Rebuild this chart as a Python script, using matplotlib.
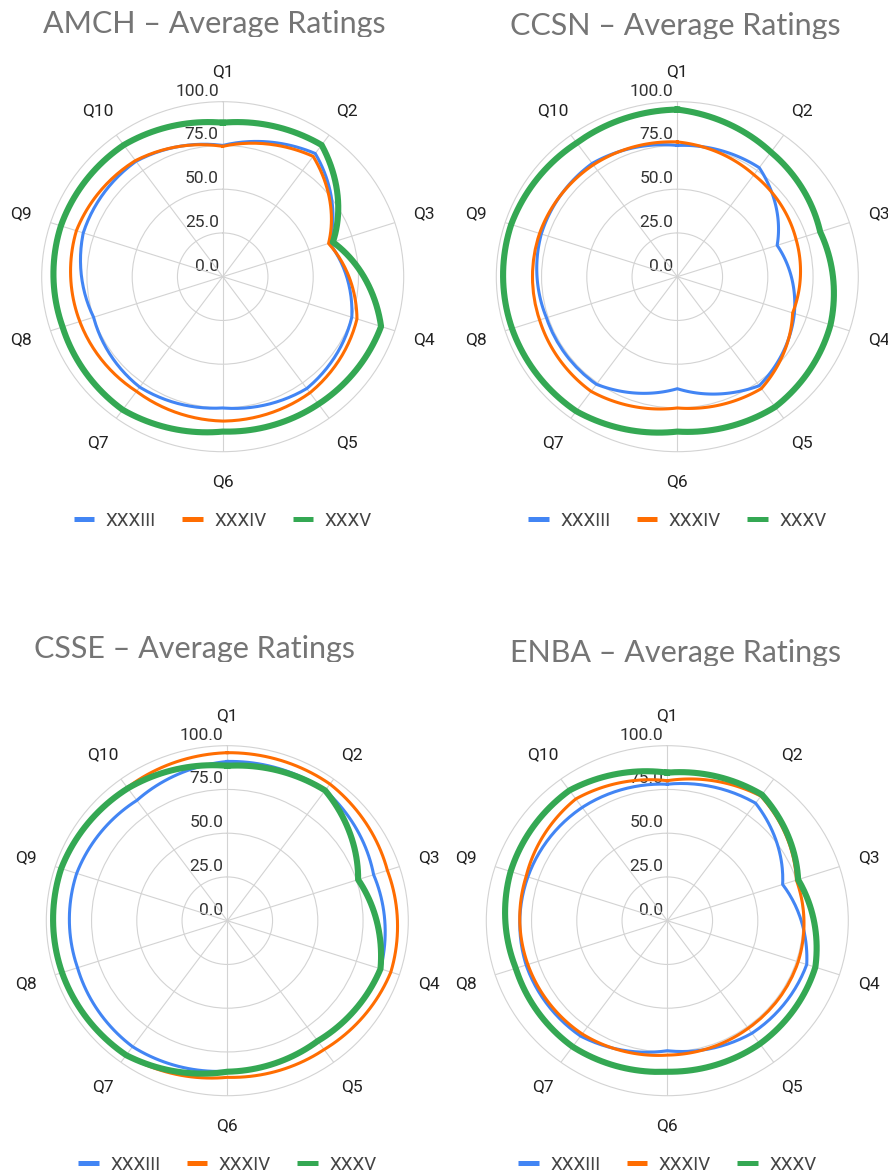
import matplotlib
matplotlib.use("Agg")
import matplotlib.pyplot as plt
import numpy as np
from matplotlib.lines import Line2D
from matplotlib.transforms import Bbox, offset_copy

W, H = 888, 1176

# data
questions = ["Q1", "Q2", "Q3", "Q4", "Q5", "Q6", "Q7", "Q8", "Q9", "Q10"]
editions = ["XXXIII", "XXXIV", "XXXV"]
ticks = [0, 25, 50, 75, 100]

amch_xxxiii = [75, 87, 62, 75, 79, 75, 78, 75, 81, 81.5]
amch_xxxiv = [74.5, 85, 61.5, 78, 82, 82.5, 81, 83, 85, 82]
amch_xxxv = [88, 93, 64, 92, 90, 88.5, 94, 93, 94, 93]

ccsn_xxxiii = [75, 77, 58, 68, 77, 64, 76, 76, 79, 80]
ccsn_xxxiv = [77, 72, 69, 67, 79, 75, 81, 80, 80, 79]
ccsn_xxxv = [95.5, 88, 83, 89, 92, 88.5, 95, 96, 96.5, 94.5]

csse_xxxiii = [91, 92, 85, 89, 85, 86, 89, 87, 87.5, 85]
csse_xxxiv = [96, 96.5, 93, 95, 91, 89.5, 95, 96, 96.5, 94]
csse_xxxv = [88.5, 92, 76, 89, 85, 86.3, 95, 96, 96.5, 93.5]

enba_xxxiii = [78, 83, 67, 81, 79.5, 74.3, 81.5, 82, 81, 80]
enba_xxxiv = [80, 88, 75, 76, 76, 76.8, 80, 81, 82, 86]
enba_xxxv = [84.6, 89, 76, 86, 87, 86.3, 89, 88, 91, 92]

colors = ["#4285F4", "#FF6D01", "#34A853"]
widths = [2.2, 2.2, 4.4]

charts = [
    ("AMCH – Average Ratings", (222.7, 276.7), (43, 33), [amch_xxxiii, amch_xxxiv, amch_xxxv], 521),
    ("CCSN – Average Ratings", (677.3, 276.7), (510, 35), [ccsn_xxxiii, ccsn_xxxiv, ccsn_xxxv], 521),
    ("CSSE – Average Ratings", (227.3, 920.7), (34, 658), [csse_xxxiii, csse_xxxiv, csse_xxxv], 1165),
    ("ENBA – Average Ratings", (667.3, 920.7), (510, 662), [enba_xxxiii, enba_xxxiv, enba_xxxv], 1165),
]

plt.rcParams["font.family"] = ["Roboto", "DejaVu Sans"]
fig = plt.figure(figsize=(W / 100, H / 100), dpi=100)

rx, ry = 181, 175
theta = np.linspace(0, 2 * np.pi, len(questions), endpoint=False)
theta_closed = np.append(theta, 2 * np.pi)

for title, (cx, cy), (tx, tb), values, ly in charts:
    ax = fig.add_axes([(cx - rx) / W, (H - cy - ry) / H, 2 * rx / W, 2 * ry / H],
                      projection="polar")
    ax.set_aspect("auto")
    ax.set_theta_zero_location("N")
    ax.set_theta_direction(-1)
    ax.set_ylim(0, 100)
    ax.set_yticks([25, 50, 75])
    ax.set_yticklabels([])
    ax.set_xticks(theta)
    ax.set_xticklabels([])
    ax.grid(True, color="#d3d3d3", linewidth=0.8)
    ax.spines["polar"].set_color("#d3d3d3")
    ax.spines["polar"].set_linewidth(0.8)
    ax.patch.set_alpha(0)

    for vals, c, lw, name in zip(values, colors, widths, editions):
        ln, = ax.plot(theta_closed, vals + vals[:1], color=c, linewidth=lw,
                      label=name, solid_joinstyle="round", zorder=3)
        # interpolate in (theta, r) like the original chart does
        ln.get_path()._interpolation_steps = 40
        ln.set_clip_on(False)

    for t, q in zip(theta, questions):
        ax.text(t, 117, q, ha="center", va="center", fontsize=12.5,
                color="#222222", clip_on=False)

    tr = offset_copy(ax.transData, fig=fig, x=-4, y=10.5, units="dots")
    for r in ticks:
        ax.text(0, r, f"{r:.1f}", transform=tr, ha="right", va="center",
                fontsize=12.5, color="#333333", zorder=1.5, clip_on=False)

    handles = [Line2D([], [], color=c, linewidth=3.6, solid_capstyle="butt") for c in colors]
    leg = ax.legend(handles, editions, loc="center", ncol=3, frameon=False,
                    bbox_to_anchor=(cx / W, 1 - ly / H), bbox_transform=fig.transFigure,
                    fontsize=13.5, handlelength=1.1, handletextpad=0.6, columnspacing=1.4)
    for txt in leg.get_texts():
        txt.set_color("#444444")

    tt = fig.text(tx / W, 1 - tb / H, title, ha="left", va="baseline",
                  fontsize=22, color="#757575", family=["Lato", "DejaVu Sans"])
    tt.set_clip_box(Bbox([[0, H - tb - 4], [W, H]]))
    tt.set_clip_on(True)

fig.savefig("out.png", dpi=100)
plt.close(fig)
